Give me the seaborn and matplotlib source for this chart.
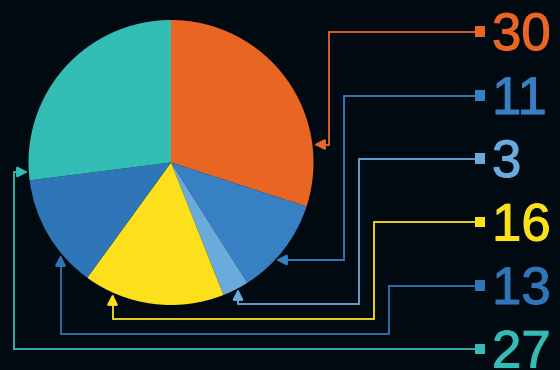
import matplotlib
matplotlib.use("Agg")
import matplotlib.pyplot as plt
from matplotlib.patches import FancyArrowPatch
from matplotlib.path import Path
import matplotlib.patheffects as pe
import seaborn as sns
import pandas as pd

# ---- data ----
values = [30, 11, 3, 16, 13, 27]
value_labels = ["30", "11", "3", "16", "13", "27"]
colors = ["#E96524", "#3880C4", "#6AAADC", "#FBE01B", "#2F76B8", "#33BDB4"]

# ---- layout (pixel coordinates, y downward) ----
W, H = 560, 370
BG = "#020A11"
pie_center = (171, 162.5)
pie_radius = 142.5
square_x = 480
square_y = [31.5, 95.5, 158.5, 222, 285.5, 349]
label_x = 492
# leader paths: from square to arrow tip
leader_paths = [
    [(476, 31.5), (329, 31.5), (329, 144.5), (314, 144.5)],
    [(476, 95.5), (344, 95.5), (344, 260), (276, 260)],
    [(476, 158.5), (359, 158.5), (359, 304), (238, 304), (238, 289)],
    [(476, 222), (374, 222), (374, 319), (112.5, 319), (112.5, 294)],
    [(476, 285.5), (389, 285.5), (389, 334), (60.5, 334), (60.5, 255)],
    [(476, 349), (13.5, 349), (13.5, 172), (28, 172)],
]

sns.set_style("dark")
plt.rcParams["font.family"] = ["Liberation Sans", "DejaVu Sans"]

fig = plt.figure(figsize=(W / 100, H / 100), dpi=100, facecolor=BG)
ax = fig.add_axes([0, 0, 1, 1])
ax.set_facecolor(BG)


def fy(y):
    return H - y


ax.pie(values, colors=colors, startangle=90, counterclock=False,
       center=(pie_center[0], fy(pie_center[1])), radius=pie_radius,
       wedgeprops=dict(linewidth=0), frame=True)

for pts, c in zip(leader_paths, colors):
    verts = [(x, fy(y)) for x, y in pts]
    codes = [Path.MOVETO] + [Path.LINETO] * (len(verts) - 1)
    arr = FancyArrowPatch(path=Path(verts, codes),
                          arrowstyle="-|>,head_length=6.5,head_width=3.3",
                          color=c, lw=1.3, shrinkA=0, shrinkB=0,
                          joinstyle="miter", zorder=3)
    ax.add_patch(arr)

df = pd.DataFrame({"x": [square_x] * len(values),
                   "y": [fy(y) for y in square_y],
                   "label": value_labels})
sns.scatterplot(data=df, x="x", y="y", hue="label", palette=colors,
                marker="s", s=60, linewidth=0, legend=False, ax=ax, zorder=4)

for lab, y, c in zip(value_labels, square_y, colors):
    ax.text(label_x, fy(y + 18.5), lab, color=c, fontsize=38,
            ha="left", va="baseline",
            path_effects=[pe.withStroke(linewidth=0.8, foreground=c)])

ax.set_xlim(0, W)
ax.set_ylim(0, H)
ax.set_aspect("auto")
ax.set_xticks([])
ax.set_yticks([])
ax.set_xlabel("")
ax.set_ylabel("")
for s in ax.spines.values():
    s.set_visible(False)

fig.savefig("out.png", dpi=100, facecolor=BG)
